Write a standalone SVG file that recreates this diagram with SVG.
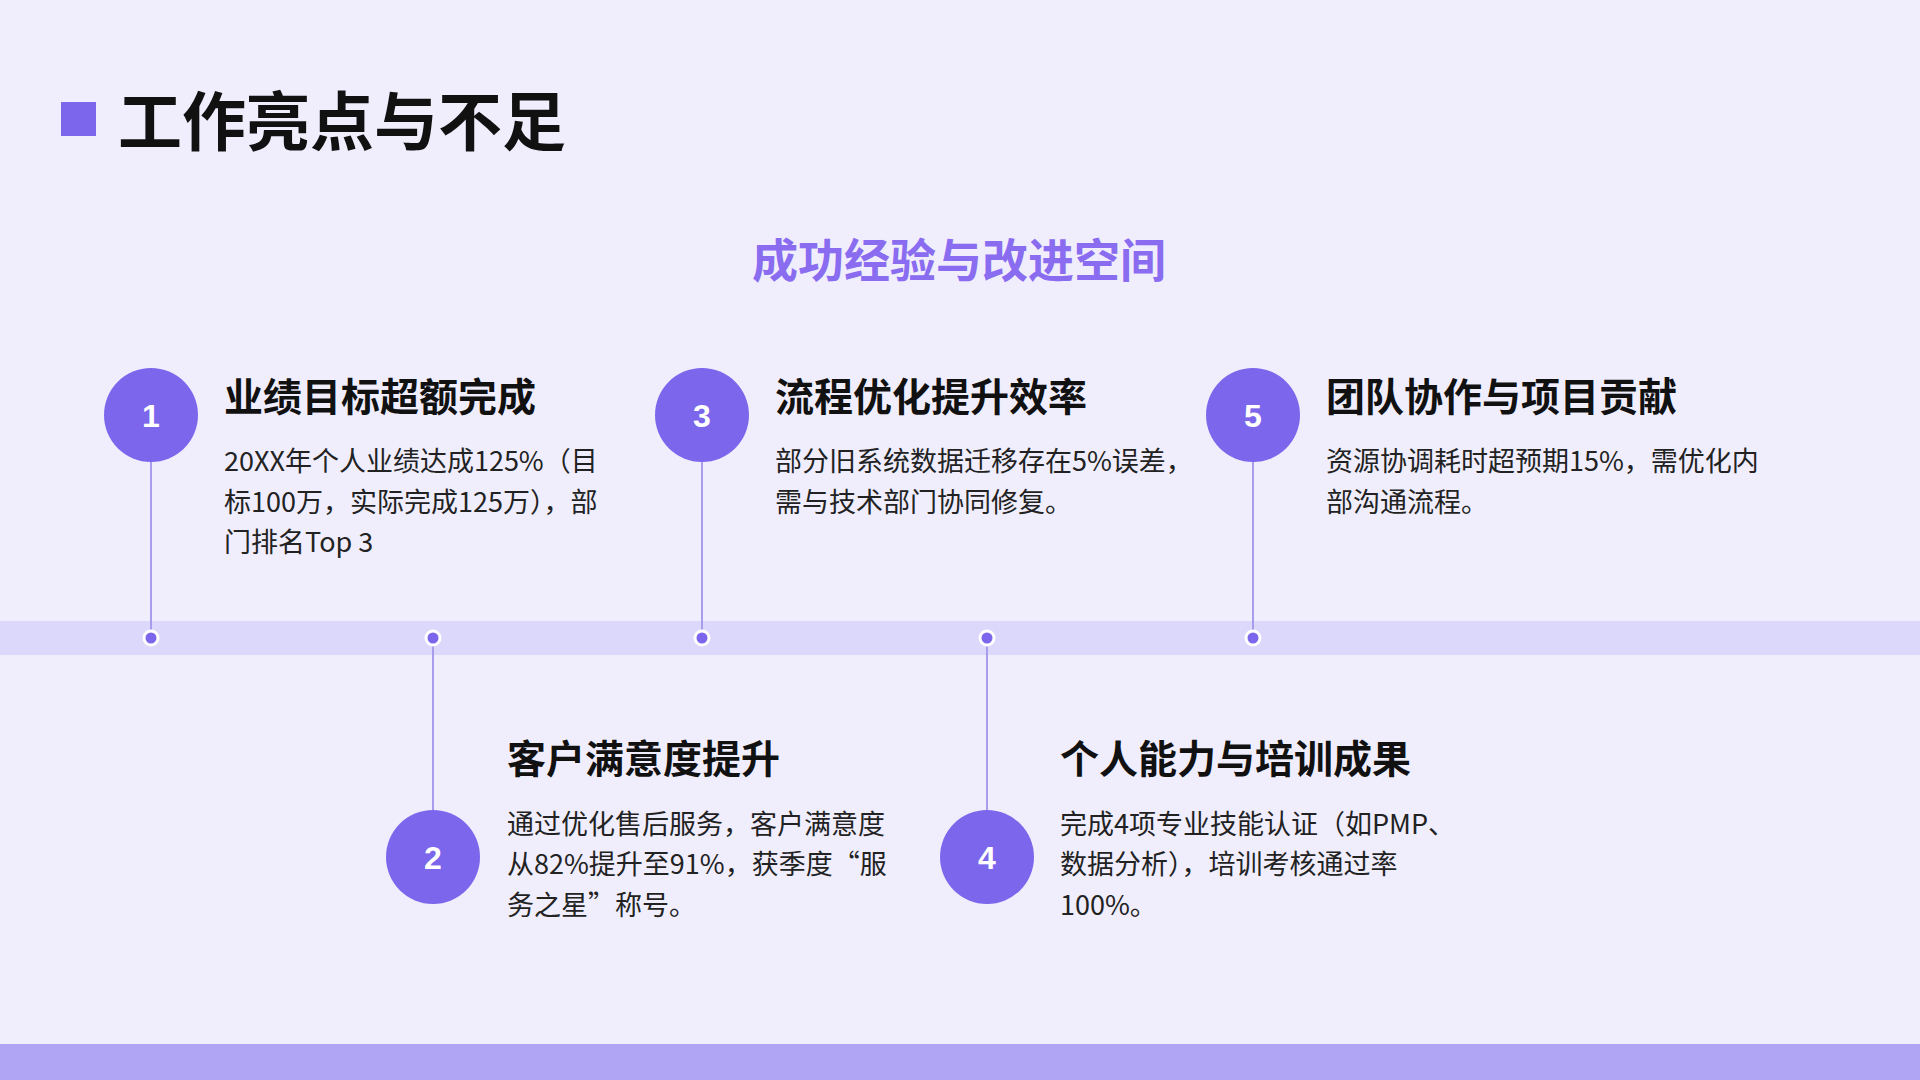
<svg xmlns="http://www.w3.org/2000/svg" width="1920" height="1080" viewBox="0 0 1920 1080">
<style>
text{font-family:"Noto Sans CJK SC","Noto Sans",sans-serif}
.t{font-size:39px;font-weight:700;fill:#111}
.d{font-size:27px;fill:#222}
.c{fill:#7b66ec}
.n{font-size:32px;font-weight:700;fill:#fff;text-anchor:middle;font-family:"Liberation Sans",sans-serif}
.dot{fill:#7b66ec;stroke:#fff;stroke-width:3}
.l{stroke:#a89cec;stroke-width:2}
</style>
<rect width="1920" height="1080" fill="#f0eefd"/>
<rect x="61" y="102" width="35" height="34" fill="#7b66ec"/>
<text x="118" y="145" font-size="64" font-weight="700" fill="#111" style="font-size:64px;font-weight:700">工作亮点与不足</text>
<text x="959" y="277" text-anchor="middle" style="font-size:46px;font-weight:700;fill:#8a6cf0">成功经验与改进空间</text>
<rect x="0" y="621" width="1920" height="34" fill="#dcd8fb"/>
<rect x="0" y="1044" width="1920" height="36" fill="#b0a4f5"/>
<g id="connectors">
<line class="l" x1="151" y1="415" x2="151" y2="638"/>
<line class="l" x1="433" y1="638" x2="433" y2="857"/>
<line class="l" x1="702" y1="415" x2="702" y2="638"/>
<line class="l" x1="987" y1="638" x2="987" y2="857"/>
<line class="l" x1="1253" y1="415" x2="1253" y2="638"/>
</g>
<g id="node1"><circle class="c" cx="151" cy="415" r="47"/><text class="n" x="151" y="427">1</text><circle class="dot" cx="151" cy="638" r="7"/>
<text class="t" x="224" y="411">业绩目标超额完成</text>
<text class="d" x="224" y="471">20XX年个人业绩达成125%（目</text><text class="d" x="224" y="512">标100万，实际完成125万），部</text><text class="d" x="224" y="552">门排名Top 3</text></g>
<g id="node2"><circle class="c" cx="433" cy="857" r="47"/><text class="n" x="433" y="869">2</text><circle class="dot" cx="433" cy="638" r="7"/>
<text class="t" x="507" y="773">客户满意度提升</text>
<text class="d" x="507" y="834">通过优化售后服务，客户满意度</text><text class="d" x="507" y="874">从82%提升至91%，获季度“服</text><text class="d" x="507" y="915">务之星”称号。</text></g>
<g id="node3"><circle class="c" cx="702" cy="415" r="47"/><text class="n" x="702" y="427">3</text><circle class="dot" cx="702" cy="638" r="7"/>
<text class="t" x="775" y="411">流程优化提升效率</text>
<text class="d" x="775" y="471">部分旧系统数据迁移存在5%误差，</text><text class="d" x="775" y="512">需与技术部门协同修复。</text></g>
<g id="node4"><circle class="c" cx="987" cy="857" r="47"/><text class="n" x="987" y="869">4</text><circle class="dot" cx="987" cy="638" r="7"/>
<text class="t" x="1060" y="773">个人能力与培训成果</text>
<text class="d" x="1060" y="834">完成4项专业技能认证（如PMP、</text><text class="d" x="1060" y="874">数据分析），培训考核通过率</text><text class="d" x="1060" y="915">100%。</text></g>
<g id="node5"><circle class="c" cx="1253" cy="415" r="47"/><text class="n" x="1253" y="427">5</text><circle class="dot" cx="1253" cy="638" r="7"/>
<text class="t" x="1326" y="411">团队协作与项目贡献</text>
<text class="d" x="1326" y="471">资源协调耗时超预期15%，需优化内</text><text class="d" x="1326" y="512">部沟通流程。</text></g>
</svg>
